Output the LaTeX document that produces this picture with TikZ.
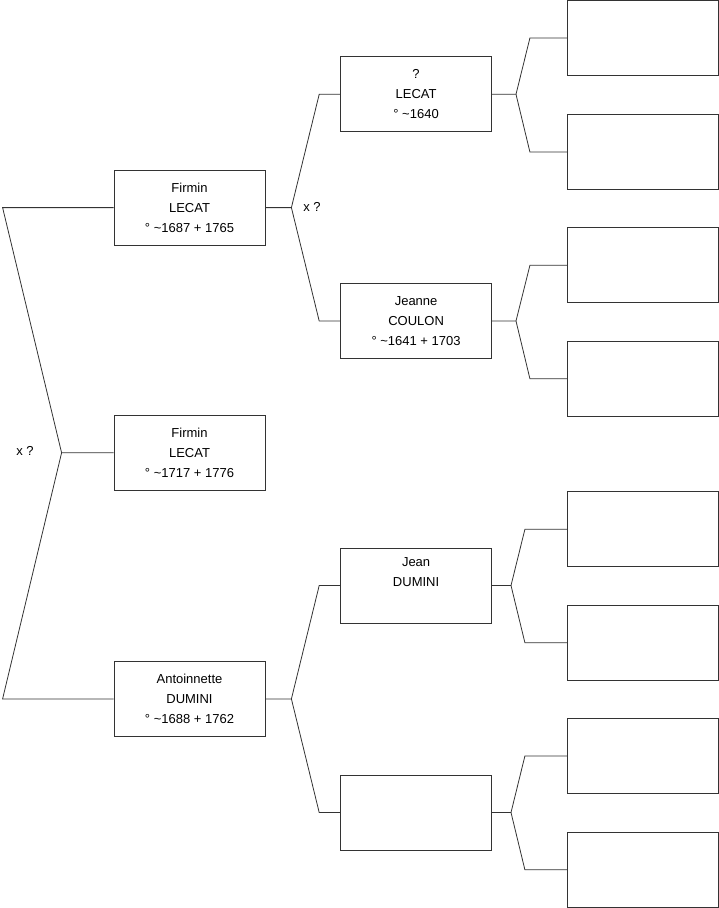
\documentclass[tikz,border=0pt]{standalone}
\usepackage{fontspec}
\setmainfont{Liberation Sans}
\usetikzlibrary{positioning}

\begin{document}
\begin{tikzpicture}[x=1pt, y=-1pt,
    person/.style={rectangle, draw=black!80, line width=0.8pt, minimum width=151pt, minimum height=75pt, align=center, inner sep=0pt, font=\fontsize{13}{20}\selectfont},
    link/.style={draw=black!80, line width=0.8pt},
    union_label/.style={font=\fontsize{13}{15}\selectfont, inner sep=0pt}]
    \useasboundingbox (0,0) rectangle (719,908);
    \node [person] (firmin_1717) at (189.5,452.8) {Firmin\\LECAT\\° \textasciitilde1717 + 1776};
    \node [person] (firmin_1687) at (189.5,207.6) {Firmin\\LECAT\\° \textasciitilde1687 + 1765};
    \node [person] (antoinnette) at (189.5,698.9) {Antoinnette\\DUMINI\\° \textasciitilde1688 + 1762};
    \node [person] (lecat_1640) at (416.1,94.3) {?\\LECAT\\° \textasciitilde1640};
    \node [person] (jeanne) at (416.1,321) {Jeanne\\COULON\\° \textasciitilde1641 + 1703};
    \node [person] (jean) at (416.1,585.5) {Jean\\DUMINI\\\strut};
    \node [person] (unknown_dm) at (416.1,812.5) {};
    \node [person] (anc_1) at (642.8,38) {};
    \node [person] (anc_2) at (642.8,152) {};
    \node [person] (anc_3) at (642.8,265.3) {};
    \node [person] (anc_4) at (642.8,378.7) {};
    \node [person] (anc_5) at (642.8,529.3) {};
    \node [person] (anc_6) at (642.8,642.7) {};
    \node [person] (anc_7) at (642.8,756) {};
    \node [person] (anc_8) at (642.8,869.8) {};
    \node [union_label] (x_root) at (25,451) {x ?};
    \node [union_label] (x_lecat) at (312,207) {x ?};
    \draw [link] (firmin_1717.west) -- ++(-52,0) coordinate (u_root) -- ([xshift=-111pt]firmin_1687.west) -- (firmin_1687.west);
    \draw [link] (u_root) -- ([xshift=-111pt]antoinnette.west) -- (antoinnette.west);
    \draw [link] (firmin_1687.east) -- ++(26,0) coordinate (u_lecat) -- ([xshift=-21pt]lecat_1640.west) -- (lecat_1640.west);
    \draw [link] (u_lecat) -- ([xshift=-21pt]jeanne.west) -- (jeanne.west);
    \draw [link] (antoinnette.east) -- ++(26,0) coordinate (u_dumini) -- ([xshift=-21pt]jean.west) -- (jean.west);
    \draw [link] (u_dumini) -- ([xshift=-21pt]unknown_dm.west) -- (unknown_dm.west);
    \draw [link] (lecat_1640.east) -- ++(24,0) coordinate (u_1) -- ([xshift=-37pt]anc_1.west) -- (anc_1.west);
    \draw [link] (u_1) -- ([xshift=-37pt]anc_2.west) -- (anc_2.west);
    \draw [link] (jeanne.east) -- ++(24,0) coordinate (u_2) -- ([xshift=-37pt]anc_3.west) -- (anc_3.west);
    \draw [link] (u_2) -- ([xshift=-37pt]anc_4.west) -- (anc_4.west);
    \draw [link] (jean.east) -- ++(19,0) coordinate (u_3) -- ([xshift=-42pt]anc_5.west) -- (anc_5.west);
    \draw [link] (u_3) -- ([xshift=-42pt]anc_6.west) -- (anc_6.west);
    \draw [link] (unknown_dm.east) -- ++(19,0) coordinate (u_4) -- ([xshift=-42pt]anc_7.west) -- (anc_7.west);
    \draw [link] (u_4) -- ([xshift=-42pt]anc_8.west) -- (anc_8.west);
\end{tikzpicture}
\end{document}
